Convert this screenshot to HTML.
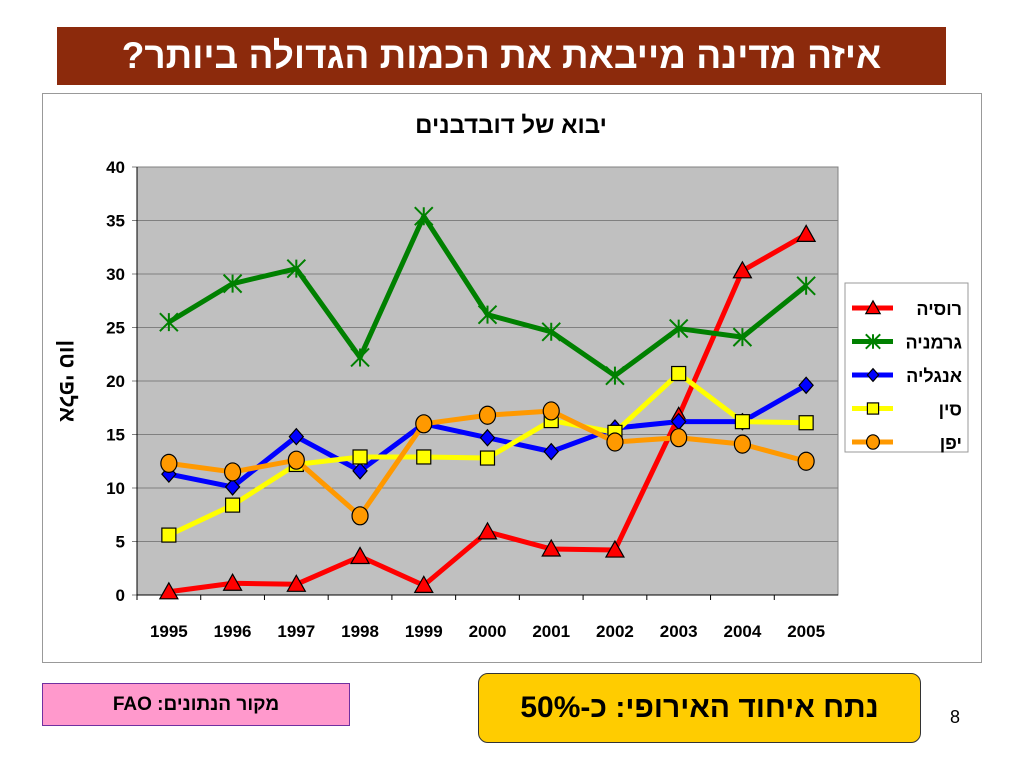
<!DOCTYPE html>
<html><head><meta charset="utf-8">
<style>
body{margin:0;width:1024px;height:768px;background:#fff;position:relative;font-family:"Liberation Sans","Noto Sans CJK SC",sans-serif;overflow:hidden}
.abs{position:absolute}
</style></head><body>
<div class="abs" style="left:57px;top:27px;width:889px;height:58px;background:#8c2a0c;color:#fff;font-weight:bold;font-size:37px;line-height:58px;text-align:center;direction:rtl">איזה מדינה מייבאת את הכמות הגדולה ביותר?</div>
<div class="abs" style="left:42px;top:93px;width:938px;height:568px;border:1px solid #999;background:#fff"></div>
<svg class="abs" style="left:0;top:0" width="1024" height="768" id="chart"></svg>
<div class="abs" style="left:42px;top:683px;width:306px;height:41px;background:#ff99cc;border:1px solid #7030a0;font-weight:bold;font-size:19px;line-height:41px;text-align:center;direction:rtl">מקור הנתונים: FAO</div>
<div class="abs" style="left:478px;top:673px;width:441px;height:68px;background:#ffcc00;border:1px solid #333;border-radius:10px;font-weight:bold;font-size:30px;line-height:68px;text-align:center;direction:rtl">נתח איחוד האירופי: כ-50%</div>
<div class="abs" style="left:950px;top:707px;font-size:18px">8</div>
<script>
const years=["1995","1996","1997","1998","1999","2000","2001","2002","2003","2004","2005"];
const russia=[0.3,1.1,1.0,3.6,0.9,5.9,4.3,4.2,16.7,30.3,33.7];
const germany=[25.5,29.1,30.5,22.2,35.4,26.2,24.6,20.5,24.9,24.1,28.9];
const england=[11.3,10.1,14.8,11.6,16.0,14.7,13.4,15.6,16.2,16.2,19.6];
const china=[5.6,8.4,12.2,12.9,12.9,12.8,16.3,15.2,20.7,16.2,16.1];
const japan=[12.3,11.5,12.6,7.4,16.0,16.8,17.2,14.3,14.7,14.1,12.5];
const yTicks=[0,5,10,15,20,25,30,35,40];
const series=[
 {name:"רוסיה",data:russia,color:"#ff0000",marker:"tri",fill:"#ff0000",id:"russia"},
 {name:"גרמניה",data:germany,color:"#008000",marker:"star",fill:"#008000",id:"germany"},
 {name:"אנגליה",data:england,color:"#0000ff",marker:"dia",fill:"#0000ff",id:"england"},
 {name:"סין",data:china,color:"#ffff00",marker:"sq",fill:"#ffff00",id:"china"},
 {name:"יפן",data:japan,color:"#ff9900",marker:"circ",fill:"#ff9900",id:"japan"}];
const svg=document.getElementById('chart');const NS="http://www.w3.org/2000/svg";
const L=137,R=838,T=167,B=595,ymax=40;
const x=i=>L+(i+0.5)*(R-L)/years.length;
const y=v=>B-v/ymax*(B-T);
function mk(t,a,txt){const e=document.createElementNS(NS,t);for(const k in a)e.setAttribute(k,a[k]);if(txt!==undefined)e.textContent=txt;svg.appendChild(e);return e;}
let e=mk('rect',{x:L,y:T,width:R-L,height:B-T,fill:"#c0c0c0",stroke:"#808080"});


yTicks.forEach(t=>{
 e=mk('line',{x1:L-5,x2:R,y1:y(t),y2:y(t),stroke:"#808080"});
 
 
 e=mk('text',{x:L-12,y:y(t)+6,"text-anchor":"end","font-size":"17","font-weight":"bold"},t);
 
 
});
years.forEach((yr,i)=>{
 e=mk('line',{x1:L+i*(R-L)/years.length,x2:L+i*(R-L)/years.length,y1:B,y2:B+5,stroke:"#000"});
 
 
 e=mk('text',{x:x(i),y:637,"text-anchor":"middle","font-size":"17","font-weight":"bold"},yr);
 
 
});
mk('line',{x1:L,x2:R,y1:B,y2:B,stroke:"#000"});
mk('line',{x1:L,x2:L,y1:T,y2:B,stroke:"#000"});
e=mk('text',{x:511,y:133,"text-anchor":"middle","font-size":"24","font-weight":"bold",direction:"rtl"},"יבוא של דובדבנים");


e=mk('text',{x:0,y:0,"text-anchor":"middle","font-size":"22","font-weight":"bold",direction:"rtl",transform:"translate(60,381) rotate(90)"},"אלפי טון");


function marker(m,cx,cy,fill,s){
 s=s||1;
 if(m=="tri")return mk('polygon',{points:`${cx},${cy-9*s} ${cx-9*s},${cy+7*s} ${cx+9*s},${cy+7*s}`,fill,stroke:"#000","stroke-width":1.2});
 if(m=="dia")return mk('polygon',{points:`${cx},${cy-8*s} ${cx+7*s},${cy} ${cx},${cy+8*s} ${cx-7*s},${cy}`,fill,stroke:"#000","stroke-width":1.2});
 if(m=="sq")return mk('rect',{x:cx-7*s,y:cy-7*s,width:14*s,height:14*s,fill,stroke:"#000","stroke-width":1.2});
 if(m=="circ")return mk('ellipse',{cx,cy,rx:8*s,ry:9*s,fill,stroke:"#000","stroke-width":1.2});
 const g=document.createElementNS(NS,'path');const r=9*s;
 g.setAttribute('d',`M${cx-r} ${cy-r}L${cx+r} ${cy+r}M${cx-r} ${cy+r}L${cx+r} ${cy-r}M${cx} ${cy-r}L${cx} ${cy+r}`);
 g.setAttribute('stroke',fill);g.setAttribute('stroke-width',2);svg.appendChild(g);return g;
}
series.forEach(s=>{
 e=mk('polyline',{points:s.data.map((v,i)=>x(i)+","+y(v)).join(" "),fill:"none",stroke:s.color,"stroke-width":5,"stroke-linejoin":"round"});
 
 
 s.data.forEach((v,i)=>{
  e=marker(s.marker,x(i),y(v),s.fill);
  
  
 });
});
e=mk('rect',{x:845,y:283,width:123,height:169,fill:"#fff",stroke:"#999"});


series.forEach((s,i)=>{
 const ly=308+i*33.5;
 mk('line',{x1:852,x2:893,y1:ly,y2:ly,stroke:s.color,"stroke-width":5});
 marker(s.marker,873,ly,s.fill,0.8);
 e=mk('text',{x:962,y:ly+7,"text-anchor":"start","font-size":"18","font-weight":"bold",direction:"rtl"},s.name);
 
 
});
</script>
</body></html>
